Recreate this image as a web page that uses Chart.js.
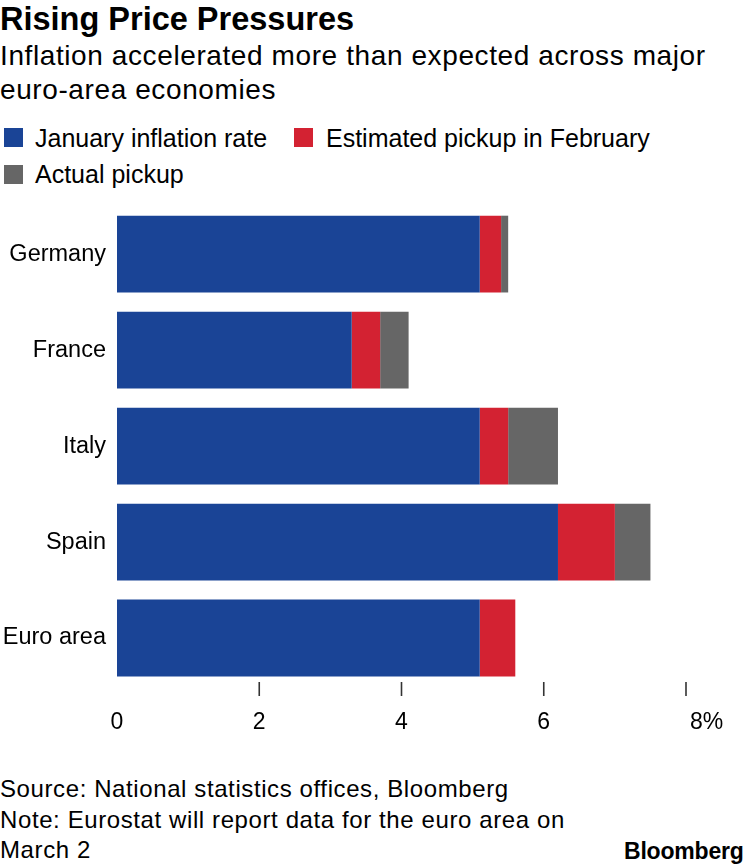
<!DOCTYPE html>
<html>
<head>
<meta charset="utf-8">
<script src="https://cdn.jsdelivr.net/npm/chart.js@4.4.1/dist/chart.umd.min.js"></script>
<style>
  html, body { margin: 0; padding: 0; background: #fff; }
  body { width: 750px; height: 866px; position: relative; overflow: hidden;
         font-family: "Liberation Sans", Arial, Helvetica, sans-serif; color: #000; }
  .abs { position: absolute; white-space: nowrap; }
  #title { left: 0; top: 2.5px; font-size: 32.5px; line-height: 32.5px; font-weight: bold; }
  #subtitle { left: 0; top: 39px; font-size: 28px; line-height: 34px; letter-spacing: 0.6px; }
  .leg { font-size: 25px; line-height: 25px; }
  .sw { position: absolute; width: 19px; height: 19px; }
  .foot { left: 0; font-size: 24px; line-height: 24px; letter-spacing: 0.6px; }
  #logo { left: 624px; top: 840px; font-size: 23px; line-height: 23px; font-weight: bold; letter-spacing: -0.2px; }
  #wrap { position: absolute; left: 0; top: 181px; width: 750px; height: 560px; }
</style>
</head>
<body>
<div id="title" class="abs">Rising Price Pressures</div>
<div id="subtitle" class="abs">Inflation accelerated more than expected across major<br>euro-area economies</div>

<div class="sw" style="left:4px; top:128px; background:#1a4496;"></div>
<div class="abs leg" style="left:35px; top:125.5px;">January inflation rate</div>
<div class="sw" style="left:294px; top:128px; background:#d32232;"></div>
<div class="abs leg" style="left:326px; top:125.5px;">Estimated pickup in February</div>
<div class="sw" style="left:4px; top:165px; background:#666666;"></div>
<div class="abs leg" style="left:35px; top:161.5px;">Actual pickup</div>

<div id="wrap"><canvas id="c" width="750" height="560"></canvas></div>

<div class="abs foot" style="top:776.5px;">Source: National statistics offices, Bloomberg</div>
<div class="abs foot" style="top:807.5px;">Note: Eurostat will report data for the euro area on</div>
<div class="abs foot" style="top:837.5px;">March 2</div>
<div id="logo" class="abs">Bloomberg</div>

<script>
const categories = ["Germany", "France", "Italy", "Spain", "Euro area"];
const januaryRate = [5.1, 3.3, 5.1, 6.2, 5.1];
const estimatedPickup = [0.3, 0.4, 0.4, 0.8, 0.5];
const actualPickup = [0.1, 0.4, 0.7, 0.5, 0];
const xTickValues = [0, 2, 4, 6, 8];
const xTickLabels = ["0", "2", "4", "6", "8%"];

const FONT = '"Liberation Sans", Arial, Helvetica, sans-serif';

const xAxisPlugin = {
  id: 'xAxisPlugin',
  afterDraw(chart) {
    const xs = chart.scales.x;
    const area = chart.chartArea;
    const ctx = chart.ctx;
    ctx.save();
    xTickValues.forEach((v, i) => {
      const x = xs.getPixelForValue(v);
      if (v !== 0) {
        ctx.strokeStyle = '#333';
        ctx.lineWidth = 1.6;
        ctx.beginPath();
        ctx.moveTo(x, area.bottom - 4);
        ctx.lineTo(x, area.bottom + 10);
        ctx.stroke();
      }
      ctx.fillStyle = '#000';
      ctx.font = '23px ' + FONT;
      ctx.textBaseline = 'middle';
      if (i === xTickValues.length - 1) {
        ctx.textAlign = 'left';
        ctx.fillText(xTickLabels[i], x + 4, area.bottom + 37);
      } else {
        ctx.textAlign = 'center';
        ctx.fillText(xTickLabels[i], x, area.bottom + 37);
      }
    });
    ctx.restore();
  }
};

new Chart(document.getElementById('c'), {
  type: 'bar',
  data: {
    labels: categories,
    datasets: [
      { label: 'January inflation rate', data: januaryRate, backgroundColor: '#1a4496' },
      { label: 'Estimated pickup in February', data: estimatedPickup, backgroundColor: '#d32232' },
      { label: 'Actual pickup', data: actualPickup, backgroundColor: '#666666' }
    ]
  },
  options: {
    indexAxis: 'y',
    responsive: false,
    animation: false,
    devicePixelRatio: 1,
    layout: { padding: { top: 10, bottom: 55, left: 0, right: 64 } },
    datasets: { bar: { barPercentage: 0.8, categoryPercentage: 1.0, borderWidth: 0 } },
    plugins: { legend: { display: false }, tooltip: { enabled: false }, title: { display: false } },
    scales: {
      x: {
        stacked: true, display: false, min: 0, max: 8,
        ticks: { stepSize: 2 }
      },
      y: {
        stacked: true,
        offset: true,
        grid: { display: false, drawTicks: false },
        border: { display: false },
        ticks: { color: '#000', font: { family: FONT, size: 23.5 }, padding: 11 },
        afterFit(scale) { scale.width = 117; }
      }
    }
  },
  plugins: [xAxisPlugin]
});
</script>
</body>
</html>
